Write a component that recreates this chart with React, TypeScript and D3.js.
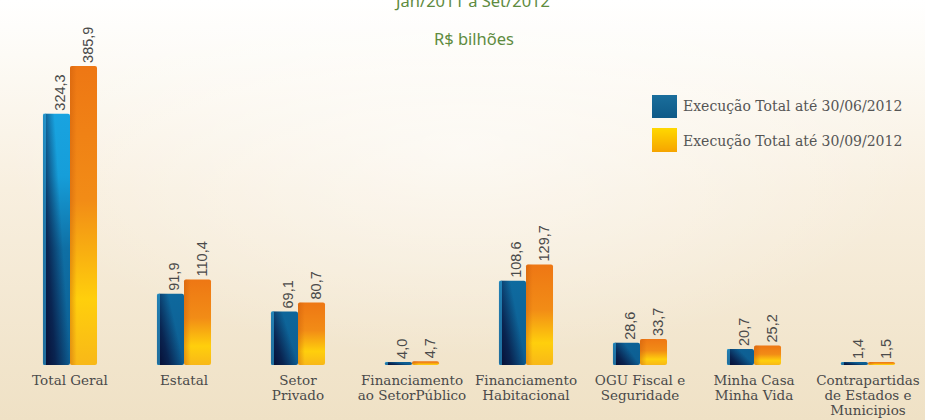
import React from "react";
import * as d3 from "d3";

const categories: string[][] = [
  ["Total Geral"],
  ["Estatal"],
  ["Setor", "Privado"],
  ["Financiamento", "ao SetorPúblico"],
  ["Financiamento", "Habitacional"],
  ["OGU Fiscal e", "Seguridade"],
  ["Minha Casa", "Minha Vida"],
  ["Contrapartidas", "de Estados e", "Municipios"],
];
const seriesNames = ["Execução Total até 30/06/2012", "Execução Total até 30/09/2012"];
const valuesJun = [324.3, 91.9, 69.1, 4.0, 108.6, 28.6, 20.7, 1.4];
const valuesSet = [385.9, 110.4, 80.7, 4.7, 129.7, 33.7, 25.2, 1.5];
const titleLines = ["Jan/2011 a Set/2012", "R$ bilhões"];

const W = 925;
const H = 420;
const baseY = 365;

const fmt = (v: number) => d3.format(".1f")(v).replace(".", ",");

export default function App() {
  const keys = categories.map((_, i) => String(i));
  const x = d3.scaleBand<string>().domain(keys).range([13, 925]).paddingInner(0.526).paddingOuter(0.263);
  const xs = d3.scaleBand<string>().domain(["jun", "set"]).range([0, x.bandwidth()]).padding(0);
  const y = d3.scaleLinear().domain([0, 400]).range([baseY, 55]);
  const series = [
    { key: "jun", values: valuesJun, fill: "url(#blueBase)" },
    { key: "set", values: valuesSet, fill: "url(#orangeBase)" },
  ];
  const labelFont = "'DejaVu Serif', serif";
  return (
    <svg width={W} height={H} style={{ position: "fixed", left: 0, top: 0, display: "block" }}>
      <defs>
        <linearGradient id="bg" x1="0" y1="0" x2="0" y2="1">
          <stop offset="0" stopColor="#ffffff" />
          <stop offset="0.13" stopColor="#fdfbf6" />
          <stop offset="0.45" stopColor="#f8efdf" />
          <stop offset="1" stopColor="#efe1c5" />
        </linearGradient>
        <radialGradient id="glow" cx="0.5" cy="0.35" r="0.5">
          <stop offset="0" stopColor="#ffffff" stopOpacity="0.55" />
          <stop offset="1" stopColor="#ffffff" stopOpacity="0" />
        </radialGradient>
        <linearGradient id="blueBase" gradientUnits="userSpaceOnUse" x1="0" y1="60" x2="0" y2="365">
          <stop offset="0" stopColor="#1ba8e6" />
          <stop offset="0.38" stopColor="#169ed9" />
          <stop offset="0.62" stopColor="#0f6fa4" />
          <stop offset="1" stopColor="#0d5e92" />
        </linearGradient>
        <linearGradient id="blueShade" x1="0" y1="1" x2="0.75" y2="0.55">
          <stop offset="0" stopColor="#070a2e" stopOpacity="1" />
          <stop offset="0.45" stopColor="#08103a" stopOpacity="0.75" />
          <stop offset="1" stopColor="#08103a" stopOpacity="0" />
        </linearGradient>
        <linearGradient id="orangeBase" x1="0" y1="0" x2="0" y2="1">
          <stop offset="0" stopColor="#ee7714" />
          <stop offset="0.45" stopColor="#f28c16" />
          <stop offset="0.78" stopColor="#ffcf0c" />
          <stop offset="1" stopColor="#f8b818" />
        </linearGradient>
        <linearGradient id="orangeEdge" x1="0" y1="0" x2="1" y2="0">
          <stop offset="0" stopColor="#c85a0a" stopOpacity="0.45" />
          <stop offset="0.25" stopColor="#c85a0a" stopOpacity="0" />
          <stop offset="1" stopColor="#c85a0a" stopOpacity="0" />
        </linearGradient>
        <linearGradient id="legBlue" x1="0" y1="0" x2="0" y2="1">
          <stop offset="0" stopColor="#1a6e9c" />
          <stop offset="1" stopColor="#0f5a87" />
        </linearGradient>
        <linearGradient id="legYellow" x1="0" y1="0" x2="0" y2="1">
          <stop offset="0" stopColor="#ffd800" />
          <stop offset="1" stopColor="#f6a400" />
        </linearGradient>
      </defs>
      <rect x={0} y={0} width={W} height={H} fill="url(#bg)" />
      <rect x={0} y={0} width={W} height={H} fill="url(#glow)" />

      <text x={473} y={7} textAnchor="middle" fill="#5e8b3f" fontFamily="'Noto Sans', sans-serif" fontSize={16.5}>
        {titleLines[0]}
      </text>
      <text x={474} y={45} textAnchor="middle" fill="#5e8b3f" fontFamily="'Noto Sans', sans-serif" fontSize={16.5}>
        {titleLines[1]}
      </text>

      {keys.map((k, i) => (
        <g key={k} transform={`translate(${x(k)},0)`}>
          {series.map((s) => {
            const v = s.values[i];
            const top = y(v);
            const h = Math.max(baseY - top, 3);
            const bx = xs(s.key) as number;
            const bw = xs.bandwidth();
            const yt = baseY - h;
            return (
              <g key={s.key}>
                <rect x={bx} y={yt} width={bw} height={h} rx={2} fill={s.fill} />
                {s.key === "jun" ? (
                  <>
                    <rect x={bx} y={yt} width={bw} height={h} rx={2} fill="url(#blueShade)" />
                    <rect x={bx} y={yt} width={3} height={h} fill="#36c0f5" opacity={0.55} />
                  </>
                ) : (
                  <rect x={bx} y={yt} width={bw} height={h} rx={2} fill="url(#orangeEdge)" />
                )}
                <text
                  transform={`translate(${bx + bw / 2 + 4},${yt - 3}) rotate(-90)`}
                  textAnchor="start"
                  dominantBaseline="central"
                  fill="#4a4a4a"
                  fontFamily="'Liberation Sans', Arial, sans-serif"
                  fontSize={14.5}
                >
                  {fmt(v)}
                </text>
              </g>
            );
          })}
          {categories[i].map((line, j) => (
            <text
              key={j}
              x={x.bandwidth() / 2}
              y={385 + j * 15}
              textAnchor="middle"
              fill="#4a4a4a"
              fontFamily={labelFont}
              fontSize={13.5}
            >
              {line}
            </text>
          ))}
        </g>
      ))}

      <g>
        <rect x={652} y={95} width={25} height={23} fill="url(#legBlue)" />
        <rect x={652} y={128} width={25} height={24} fill="url(#legYellow)" />
        <text x={683} y={111} fill="#555" fontFamily={labelFont} fontSize={14}>
          {seriesNames[0]}
        </text>
        <text x={683} y={146} fill="#555" fontFamily={labelFont} fontSize={14}>
          {seriesNames[1]}
        </text>
      </g>
    </svg>
  );
}
